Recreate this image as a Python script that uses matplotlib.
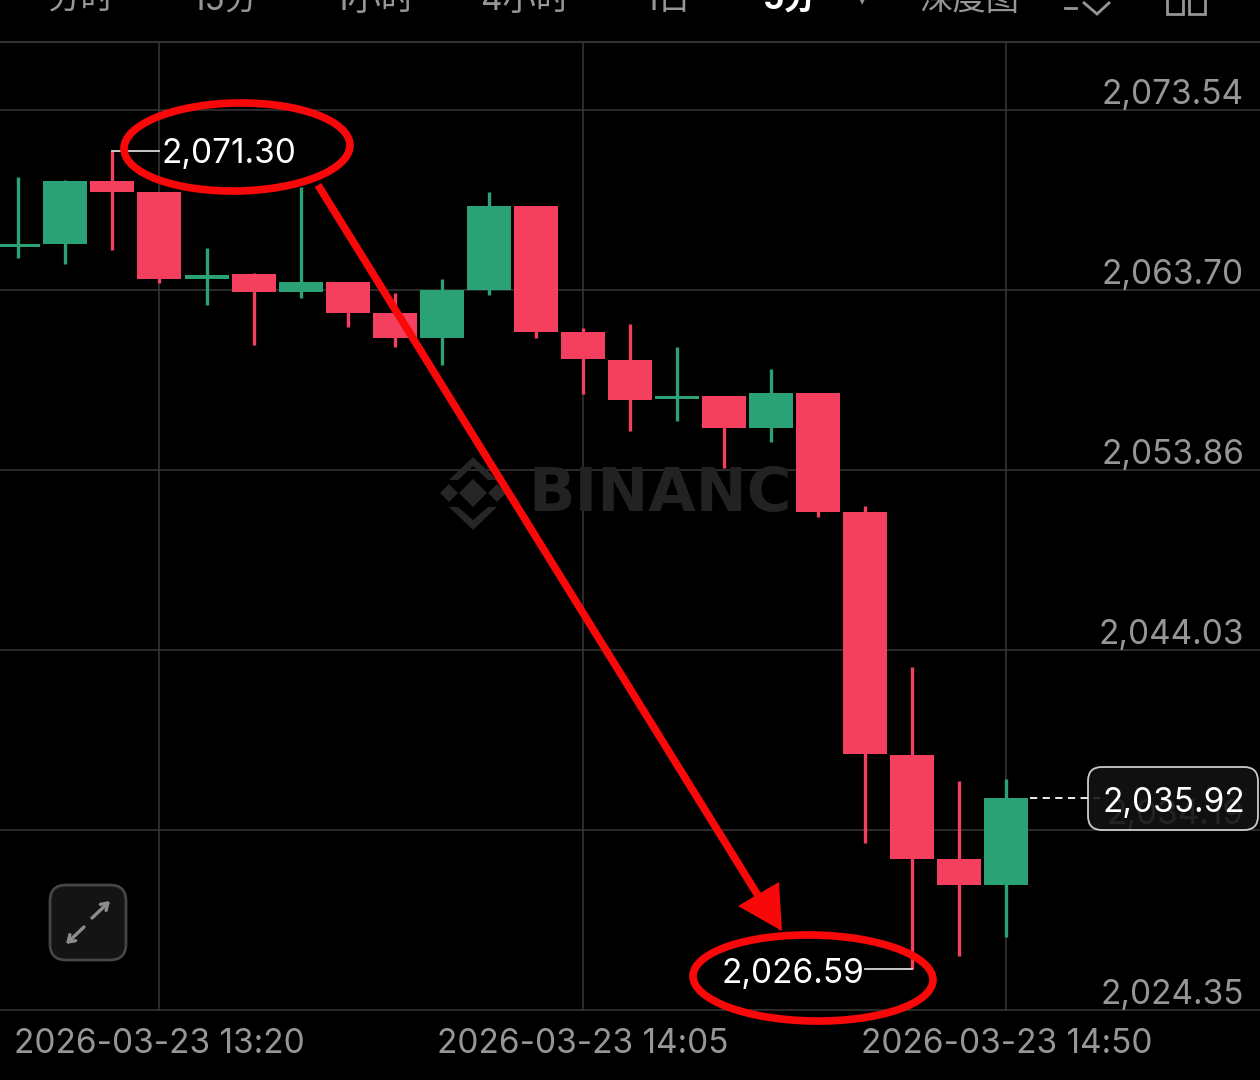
import matplotlib
matplotlib.use('Agg')
import matplotlib.pyplot as plt
from matplotlib.patches import Ellipse, FancyBboxPatch, Polygon, Rectangle

# candles, 5 minute bars
opens = [2066.05, 2066.21, 2069.66, 2069.06, 2064.30, 2064.57, 2063.59, 2064.14, 2062.44, 2061.08, 2063.70,
         2068.29, 2061.40, 2059.87, 2057.74, 2057.90, 2056.16, 2058.07, 2051.56, 2038.28, 2032.59, 2031.17]
closes = [2066.21, 2069.66, 2069.06, 2064.30, 2064.52, 2063.59, 2064.14, 2062.44, 2061.08, 2063.70, 2068.29,
          2061.40, 2059.93, 2057.69, 2057.90, 2056.16, 2058.07, 2051.56, 2038.33, 2032.59, 2031.17, 2035.92]
highs = [2069.88, 2069.71, 2071.30, 2069.06, 2066.00, 2064.63, 2069.33, 2064.14, 2063.54, 2064.30, 2069.06,
         2068.29, 2061.62, 2061.84, 2060.58, 2057.90, 2059.38, 2058.07, 2051.89, 2043.09, 2036.86, 2036.97]
lows = [2065.45, 2065.12, 2065.89, 2064.08, 2062.88, 2060.69, 2063.26, 2061.68, 2060.58, 2059.60, 2063.43,
        2061.08, 2058.01, 2056.00, 2056.54, 2053.97, 2055.39, 2051.29, 2033.47, 2026.59, 2027.29, 2028.33]

price_ticks = [2073.54, 2063.70, 2053.86, 2044.03, 2034.19, 2024.35]
time_idx = [3, 12, 21]
time_labels = ['2026-03-23 13:20', '2026-03-23 14:05', '2026-03-23 14:50']
tabs = ['分时', '15分', '1小时', '4小时', '1日', '5分', '深度图']
tab_x = [81, 225, 375, 525, 668, 790, 970]
last_price = 2035.92
high_price = 2071.30
low_price = 2026.59

GREEN = '#2ba275'
RED = '#f43f5e'
GRID = '#333333'
LABEL = '#969696'
MARK = '#f80808'
FONT = ['Inter', 'Noto Sans CJK SC']
STEP = 47.05
X0 = 18.3


def px_price(y):
    return 2073.54 - (y - 110) * (2073.54 - 2024.35) / 900


fig = plt.figure(figsize=(12.6, 10.8), dpi=100, facecolor='black')

# chart axes, scaled so that bars land on the screenshot pixels
ax = fig.add_axes([0, 0, 1, 1], facecolor='black')
ax.set_xlim(-X0 / STEP, (1260 - X0) / STEP)
ax.set_ylim(px_price(1080), px_price(0))
ax.axis('off')

# overlay in pixel coordinates for the app chrome and hand drawn marks
ov = fig.add_axes([0, 0, 1, 1], facecolor='none')
ov.set_xlim(0, 1260)
ov.set_ylim(1080, 0)
ov.axis('off')
ov.set_zorder(5)

for p in price_ticks:
    ax.axhline(p, color=GRID, lw=1.2, zorder=1)
    ax.annotate(f'{p:,.2f}', (1244, p), xycoords=('figure pixels', 'data'), xytext=(0, 11), textcoords='offset points',
                ha='right', va='center', color=LABEL, fontsize=24, family=FONT, zorder=2)
for i, lab in zip(time_idx, time_labels):
    ax.plot([i, i], [px_price(42), px_price(1010)], color=GRID, lw=1.2, zorder=1)
    ax.text(i, px_price(1044), lab, ha='center', va='center', color=LABEL, fontsize=24, family=FONT)
ax.plot([-1, 30], [px_price(42), px_price(42)], color=GRID, lw=1.5, zorder=1)

# watermark
ax.text((528 - X0) / STEP, px_price(494), 'BINANCE', ha='left', va='center', color='#222222', fontsize=44,
        fontweight='bold', family='DejaVu Sans', zorder=1.5)
for pts in [[(473, 479), (487, 493), (473, 507), (459, 493)],
            [(449, 484), (458, 493), (449, 502), (440, 493)],
            [(497, 484), (506, 493), (497, 502), (488, 493)],
            [(473, 457), (497, 480), (488, 480), (473, 466), (458, 480), (449, 480)],
            [(473, 530), (497, 507), (488, 507), (473, 520), (458, 507), (449, 507)]]:
    ov.add_patch(Polygon(pts, closed=True, fc='#262626', ec='none', zorder=0))

for i in range(len(opens)):
    col = GREEN if closes[i] >= opens[i] else RED
    ax.plot([i, i], [lows[i], highs[i]], color=col, lw=2.4, solid_capstyle='butt', zorder=3)
    bottom = min(opens[i], closes[i])
    ax.bar(i, abs(closes[i] - opens[i]), bottom=bottom, width=44 / STEP, color=col, zorder=4)

# high / low / last labels
hi_i = highs.index(high_price)
lo_i = lows.index(low_price)
ax.plot([hi_i, hi_i + 1], [high_price, high_price], color='#d8d8d8', lw=1.3, zorder=6)
ax.text(hi_i + 1.04, px_price(154), '2,071.30', color='white', fontsize=24, family=FONT, va='center', zorder=6)
ax.plot([lo_i, lo_i - 1], [low_price, low_price], color='#d8d8d8', lw=1.3, zorder=6)
ax.text(lo_i - 1.02, px_price(974), '2,026.59', color='white', fontsize=24, family=FONT, va='center', ha='right', zorder=6)
ax.plot([21.5, 23], [last_price, last_price], color='white', lw=1.3, ls=(0, (4, 3)), zorder=6)

ov.add_patch(FancyBboxPatch((1102, 781), 142, 35, boxstyle='round,pad=14,rounding_size=14', fc='#131313', ec='#e6e6e6',
                            lw=1.3, alpha=0.88))
ov.text(1174, 803, '2,035.92', color='white', fontsize=24, family=FONT, ha='center', va='center')

# expand button
ov.add_patch(FancyBboxPatch((64, 899), 48, 47, boxstyle='round,pad=14,rounding_size=16', fc='#141414', ec='#454545', lw=2))
ov.annotate('', (110, 901), (92, 918), arrowprops=dict(arrowstyle='->,head_length=0.45,head_width=0.3', color='#8c8c8c', lw=2.4, shrinkA=0, shrinkB=0))
ov.annotate('', (66, 944), (84, 927), arrowprops=dict(arrowstyle='->,head_length=0.45,head_width=0.3', color='#8c8c8c', lw=2.4, shrinkA=0, shrinkB=0))

# red markup
ov.add_patch(Ellipse((237, 147), 226, 88, angle=-1, fc='none', ec=MARK, lw=5.5, zorder=8))
ov.add_patch(Ellipse((813, 978), 240, 86, angle=1, fc='none', ec=MARK, lw=5.5, zorder=8))
ov.plot([318, 762], [185, 902], color=MARK, lw=5.5, solid_capstyle='butt', zorder=8)
ov.add_patch(Polygon([(782, 931), (738, 906), (779, 882)], closed=True, fc=MARK, ec='none', zorder=8))

# top tab bar, cut by the crop
for x, t in zip(tab_x, tabs):
    ov.text(x, 1, t, ha='center', va='center', color='white' if t == '5分' else LABEL, fontsize=24,
            family=FONT, fontweight='bold' if t == '5分' else 'normal', clip_on=True)
ov.text(862, 0, '▾', ha='center', va='center', color=LABEL, fontsize=12, family='DejaVu Sans', clip_on=True)
ov.add_patch(Polygon([(1083, 2), (1097, 14), (1110, 2)], closed=False, fc='none', ec=LABEL, lw=2))
ov.plot([1065, 1076], [8, 8], color=LABEL, lw=2)
for x in (1167, 1189):
    ov.add_patch(Rectangle((x, -6), 16, 20, fc='none', ec=LABEL, lw=2))

fig.savefig('out.png', dpi=100, facecolor='black')
